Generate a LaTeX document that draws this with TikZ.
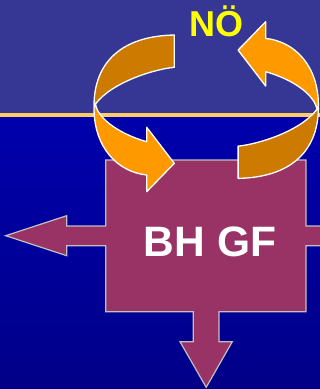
\documentclass[tikz,border=0pt]{standalone}
\usepackage{fontspec}
\setmainfont{Liberation Sans}
\definecolor{topband}{RGB}{54,54,148}
\definecolor{sepline}{RGB}{255,204,102}
\definecolor{bluetop}{RGB}{0,0,172}
\definecolor{bluebot}{RGB}{0,0,136}
\definecolor{boxfill}{RGB}{153,51,102}
\definecolor{boxline}{RGB}{192,192,192}
\definecolor{orlight}{RGB}{255,153,0}
\definecolor{ordark}{RGB}{204,122,0}
\definecolor{noyellow}{RGB}{255,255,0}
\tikzset{
  arrowdark/.style={fill=ordark,draw=white,line width=1.3pt,line join=round},
  arrowlight/.style={fill=orlight,draw=white,line width=1.3pt,line join=round},
  bigbox/.style={fill=boxfill,draw=boxline,line width=1.2pt,line join=miter},
  labeltext/.style={font=\fontsize{#1}{#1}\selectfont\bfseries,anchor=base,inner sep=0pt}
}
\newcommand\myCurvedArrow{%
  \path[arrowdark] (174.3,35) .. controls (122,36) and (94,62) .. (94,106)
     -- (95.5,104) .. controls (112,82) and (155,69) .. (174.3,67.3) -- cycle;
  \path[arrowlight] (95.5,103) -- (94,108) .. controls (94,148) and (118,172) .. (146.7,175)
     -- (146.7,191.7) -- (174.3,163.3) -- (146.7,127.3) -- (146.7,141.7)
     .. controls (116,133) and (96,116) .. (95.5,103) -- cycle;
}
\begin{document}
\begin{tikzpicture}[x=1pt,y=-1pt]
\useasboundingbox (0,0) rectangle (320,389);
\clip (0,0) rectangle (320,389);
% background
\fill[topband] (0,0) rectangle (320,115);
\shade[top color=bluetop,bottom color=bluebot] (0,115) rectangle (320,389);
\fill[sepline] (0,113.3) rectangle (320,117.3);
% central box with three arrows
\path[bigbox] (105.7,160) -- (306,160) -- (306,226) -- (330,226) -- (330,245.7)
  -- (306,245.7) -- (306,311.7) -- (219,311.7) -- (219,341.7) -- (232.3,341.7)
  -- (206.2,387.3) -- (180,341.7) -- (193.3,341.7) -- (193.3,311.7) -- (105.7,311.7)
  -- (105.7,245.7) -- (66.7,245.7) -- (66.7,255.7) -- (5.7,235.7) -- (66.7,215.7)
  -- (66.7,226) -- (105.7,226) -- cycle;
% circular arrows
\myCurvedArrow
\begin{scope}[rotate around={180:(206.2,106.7)}]
\myCurvedArrow
\end{scope}
% labels
\node[labeltext=36,text=noyellow] (no) at (216.3,36.7) {NÖ};
\node[labeltext=42.5,text=white] (bhgf) at (210,256) {BH GF};
\end{tikzpicture}
\end{document}
